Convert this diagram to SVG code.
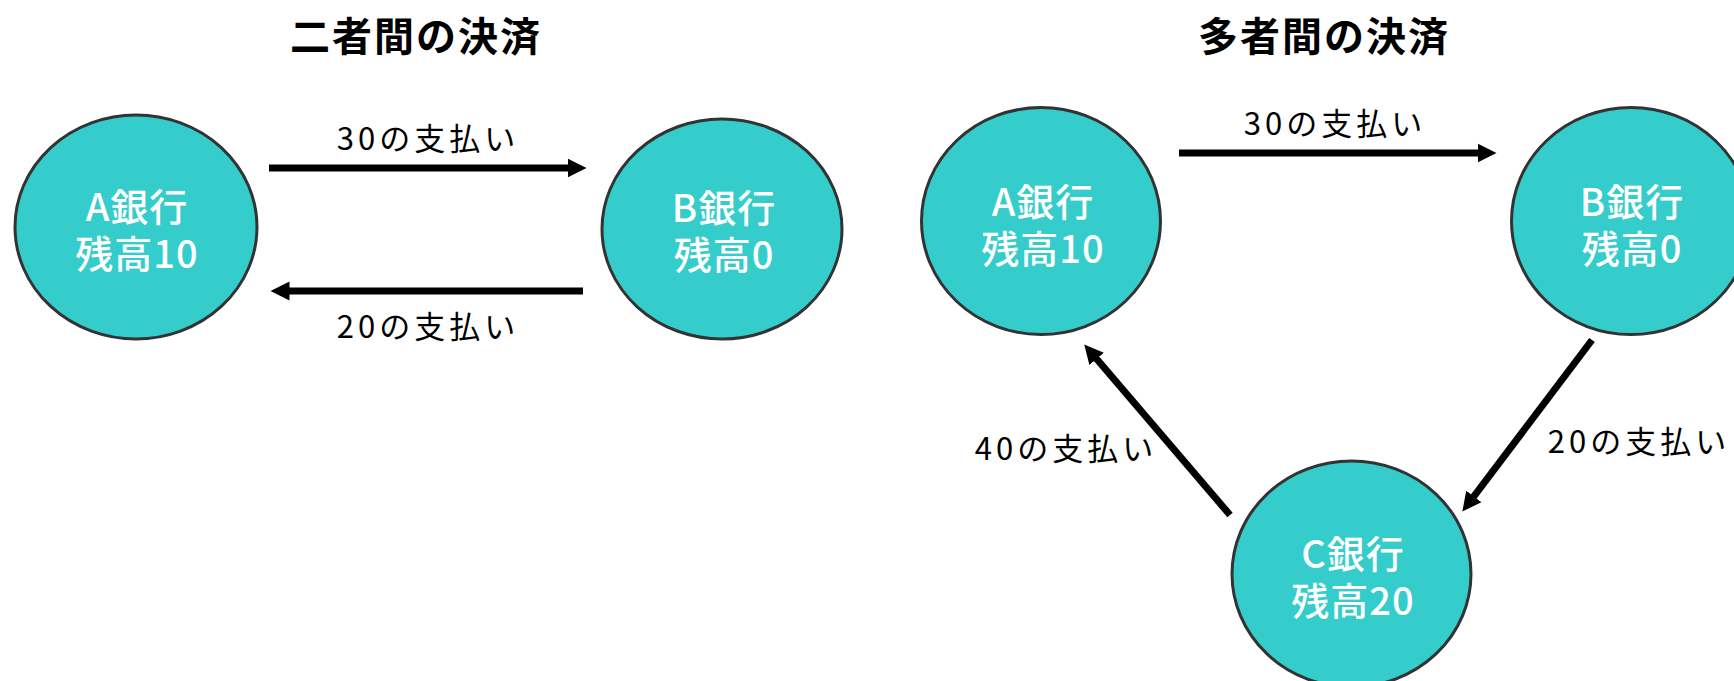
<svg xmlns="http://www.w3.org/2000/svg" width="1734" height="681" viewBox="0 0 1734 681">
<style>
.bank{fill:#35cccc;stroke:#333333;stroke-width:3}
.nt{font-family:"Noto Sans CJK JP",sans-serif;font-weight:500;font-size:38px;fill:#ffffff;text-anchor:middle;letter-spacing:1px}
.title{font-family:"Noto Sans CJK JP",sans-serif;font-weight:700;font-size:40px;fill:#000000;text-anchor:middle;letter-spacing:2px}
.lbl{font-family:"Noto Sans CJK JP",sans-serif;font-weight:400;font-size:31px;fill:#000000;text-anchor:middle;letter-spacing:4px}
.arr{stroke:#000000;stroke-width:7;fill:none;marker-end:url(#head)}
</style>
<defs>
<marker id="head" markerUnits="userSpaceOnUse" markerWidth="20" markerHeight="20" viewBox="0 -10 20 20" refX="0.5" refY="0" orient="auto">
<path d="M0,-9.5 L19,0 L0,9.5 z" fill="#000000"/>
</marker>
</defs>
<g id="titles">
<text class="title" x="416" y="51">二者間の決済</text>
<text class="title" x="1324" y="51">多者間の決済</text>
</g>
<g id="connectors">
<line class="arr" x1="269" y1="168" x2="568" y2="168"/>
<line class="arr" x1="583" y1="291" x2="289" y2="291"/>
<line class="arr" x1="1179" y1="153" x2="1478" y2="153"/>
<line class="arr" x1="1592" y1="340" x2="1473.5" y2="496.8"/>
<line class="arr" x1="1230" y1="515" x2="1096.3" y2="358.5"/>
</g>
<g id="labels">
<text class="lbl" x="428" y="150">30の支払い</text>
<text class="lbl" x="428" y="338">20の支払い</text>
<text class="lbl" x="1335" y="135">30の支払い</text>
<text class="lbl" x="1066" y="460">40の支払い</text>
<text class="lbl" x="1639" y="453">20の支払い</text>
</g>
<g id="node-a1">
<ellipse class="bank" cx="136" cy="227" rx="121" ry="112"/>
<text class="nt" x="137" y="221">A銀行</text>
<text class="nt" x="137" y="268">残高10</text>
</g>
<g id="node-b1">
<ellipse class="bank" cx="722" cy="229" rx="120" ry="110"/>
<text class="nt" x="724" y="222">B銀行</text>
<text class="nt" x="724" y="269">残高0</text>
</g>
<g id="node-a2">
<ellipse class="bank" cx="1041" cy="221" rx="119.5" ry="113.5"/>
<text class="nt" x="1043" y="216">A銀行</text>
<text class="nt" x="1043" y="263">残高10</text>
</g>
<g id="node-b2">
<ellipse class="bank" cx="1631" cy="221" rx="119.5" ry="113.5"/>
<text class="nt" x="1632" y="216">B銀行</text>
<text class="nt" x="1632" y="263">残高0</text>
</g>
<g id="node-c">
<ellipse class="bank" cx="1351.5" cy="574" rx="119.5" ry="113"/>
<text class="nt" x="1353" y="568">C銀行</text>
<text class="nt" x="1353" y="615">残高20</text>
</g>
</svg>
